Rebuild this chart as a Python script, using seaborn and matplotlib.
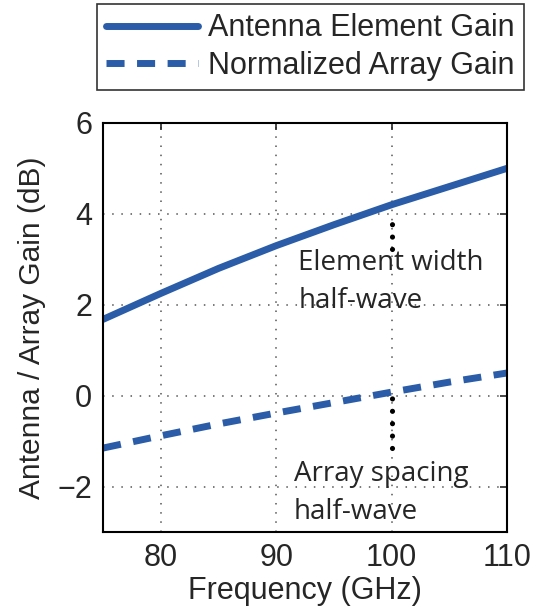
import numpy as np
import pandas as pd
import matplotlib
matplotlib.use("Agg")
import matplotlib.pyplot as plt
import seaborn as sns

# Data
freq = [75, 80, 85, 90, 95, 100, 105, 110]
element_gain = [1.68, 2.25, 2.8, 3.3, 3.76, 4.2, 4.6, 5.0]
array_gain = [-1.15, -0.88, -0.62, -0.38, -0.15, 0.08, 0.3, 0.5]
series_names = ["Antenna Element Gain", "Normalized Array Gain"]

df = pd.DataFrame({
    "Frequency": freq * 2,
    "Gain": element_gain + array_gain,
    "Series": [series_names[0]] * len(freq) + [series_names[1]] * len(freq),
})

sns.set_style("white")
plt.rcParams['font.family'] = ['Liberation Sans', 'DejaVu Sans']

fig = plt.figure(figsize=(5.43, 6.11), dpi=100)
ax = fig.add_axes([0.19, 0.129, 0.744, 0.67])

blue = "#2a5ca8"
sns.lineplot(data=df, x="Frequency", y="Gain", hue="Series", style="Series",
             palette=[blue, blue], dashes=[(), (2.6, 1.8)], linewidth=5,
             ax=ax, legend=False)

ax.set_xlim(75, 110)
ax.set_ylim(-3, 6)
ax.set_xticks([80, 90, 100, 110])
ax.set_yticks([-2, 0, 2, 4, 6])
ax.set_yticklabels(["\u22122", "0", "2", "4", "6"])
ax.grid(True, linestyle=(0, (1, 5)), color="#555555", linewidth=1.1)
ax.tick_params(direction="in", top=True, right=True, labelsize=22, length=5,
               width=1.2, pad=8)
for s in ax.spines.values():
    s.set_linewidth(1.5)
    s.set_color("black")
ax.set_xlabel("Frequency (GHz)", fontsize=22, labelpad=2)
ax.set_ylabel("Antenna / Array Gain (dB)", fontsize=21.5, labelpad=8)

# annotation markers at 100 GHz
dots = (0, (0.01, 2.4))
ax.plot([100, 100], [3.23, 4.02], linestyle=dots, color="black",
        linewidth=3.7, dash_capstyle="round")
ax.plot([100, 100], [-1.14, -0.04], linestyle=dots, color="black",
        linewidth=3.7, dash_capstyle="round")
ax.text(91.9, 3.22, "Element width\nhalf-wave", fontsize=20, family="Open Sans",
        va="top", ha="left", linespacing=1.45)
ax.text(91.5, -1.42, "Array spacing\nhalf-wave", fontsize=20, family="Open Sans",
        va="top", ha="left", linespacing=1.45)

handles = [plt.Line2D([], [], color=blue, lw=5),
           plt.Line2D([], [], color=blue, lw=5, linestyle=(0, (2.6, 1.8)))]
leg = fig.legend(handles, series_names, loc="upper right",
                 bbox_to_anchor=(0.965, 0.993), fontsize=22, handlelength=3.0,
                 frameon=True, fancybox=False, edgecolor="black",
                 borderpad=0.3, labelspacing=0.25, handletextpad=0.35,
                 borderaxespad=0)
leg.get_frame().set_linewidth(1.2)

fig.savefig("out.png", dpi=100)
